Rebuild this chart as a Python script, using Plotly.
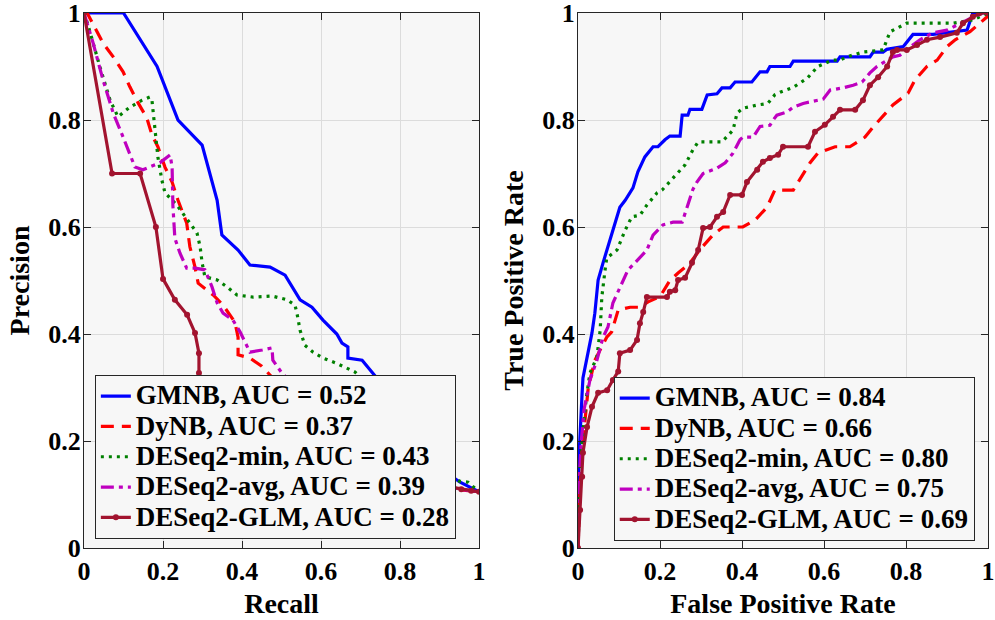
import plotly.graph_objects as go

# ---------------- data ----------------
methods = ["GMNB", "DyNB", "DESeq2-min", "DESeq2-avg", "DESeq2-GLM"]
pr_auc = ["0.52", "0.37", "0.43", "0.39", "0.28"]
roc_auc = ["0.84", "0.66", "0.80", "0.75", "0.69"]
tick_vals = [0, 0.2, 0.4, 0.6, 0.8, 1]
tick_text = ["0", "0.2", "0.4", "0.6", "0.8", "1"]

# Precision-Recall curves
gmnb_recall = [0, 0.1, 0.185, 0.238, 0.299, 0.337, 0.349, 0.39, 0.42, 0.471, 0.509, 0.547, 0.577, 0.605, 0.64, 0.653, 0.668, 0.668, 0.704, 0.724, 0.75, 0.8, 0.85, 0.9, 0.952, 1.0]
gmnb_prec = [1, 1, 0.9, 0.8, 0.753, 0.65, 0.585, 0.557, 0.529, 0.525, 0.51, 0.464, 0.45, 0.426, 0.40, 0.383, 0.376, 0.355, 0.351, 0.333, 0.31, 0.26, 0.2, 0.15, 0.123, 0.105]

dynb_recall = [0, 0.008, 0.048, 0.074, 0.099, 0.116, 0.137, 0.159, 0.172, 0.187, 0.205, 0.223, 0.238, 0.25, 0.26, 0.268, 0.281, 0.289, 0.327, 0.352, 0.382, 0.39, 0.39, 0.42, 0.45, 0.5, 0.6, 0.7, 0.8, 0.9, 0.96, 1.0]
dynb_prec = [1, 1, 0.944, 0.918, 0.89, 0.862, 0.832, 0.804, 0.772, 0.75, 0.712, 0.684, 0.65, 0.626, 0.607, 0.563, 0.525, 0.495, 0.473, 0.454, 0.422, 0.394, 0.361, 0.355, 0.34, 0.3, 0.24, 0.19, 0.15, 0.12, 0.108, 0.105]

dmin_recall = [0, 0.01, 0.04, 0.066, 0.086, 0.116, 0.147, 0.167, 0.172, 0.18, 0.187, 0.197, 0.205, 0.235, 0.263, 0.286, 0.294, 0.299, 0.306, 0.337, 0.362, 0.387, 0.428, 0.476, 0.514, 0.534, 0.539, 0.547, 0.559, 0.58, 0.605, 0.64, 0.686, 0.75, 0.85, 0.95, 0.972, 1.0]
dmin_prec = [1, 0.978, 0.9, 0.837, 0.806, 0.824, 0.837, 0.843, 0.837, 0.776, 0.731, 0.688, 0.664, 0.641, 0.613, 0.589, 0.563, 0.533, 0.507, 0.501, 0.488, 0.473, 0.469, 0.471, 0.464, 0.454, 0.439, 0.407, 0.379, 0.366, 0.355, 0.345, 0.329, 0.28, 0.18, 0.125, 0.123, 0.105]

davg_recall = [0, 0.023, 0.048, 0.074, 0.099, 0.129, 0.149, 0.192, 0.218, 0.223, 0.225, 0.23, 0.243, 0.26, 0.281, 0.306, 0.324, 0.337, 0.352, 0.377, 0.395, 0.408, 0.42, 0.451, 0.476, 0.478, 0.501, 0.55, 0.65, 0.75, 0.85, 0.95, 1.0]
davg_prec = [1, 0.944, 0.875, 0.813, 0.768, 0.712, 0.707, 0.72, 0.735, 0.712, 0.64, 0.579, 0.551, 0.523, 0.523, 0.52, 0.488, 0.458, 0.439, 0.426, 0.404, 0.383, 0.366, 0.37, 0.374, 0.351, 0.327, 0.29, 0.22, 0.17, 0.13, 0.11, 0.105]

dglm_recall = [0, 0.071, 0.142, 0.182, 0.2, 0.23, 0.261, 0.281, 0.291, 0.291, 0.3, 0.35, 0.45, 0.6, 0.8, 0.955, 0.98, 1.0]
dglm_prec = [1, 0.70, 0.70, 0.6, 0.503, 0.464, 0.436, 0.402, 0.364, 0.327, 0.29, 0.24, 0.2, 0.16, 0.13, 0.11, 0.107, 0.105]

# ROC curves
gmnb_fpr = [0, 0, 0.003, 0.006, 0.01, 0.012, 0.024, 0.034, 0.041, 0.049, 0.061, 0.073, 0.085, 0.102, 0.115, 0.134, 0.146, 0.163, 0.183, 0.195, 0.212, 0.224, 0.249, 0.254, 0.268, 0.273, 0.302, 0.315, 0.339, 0.351, 0.371, 0.383, 0.424, 0.444, 0.461, 0.468, 0.517, 0.525, 0.632, 0.639, 0.712, 0.72, 0.744, 0.753, 0.793, 0.817, 0.866, 0.949, 0.963, 1.0]
gmnb_tpr = [0, 0.1, 0.18, 0.24, 0.29, 0.318, 0.364, 0.402, 0.439, 0.501, 0.533, 0.563, 0.594, 0.637, 0.65, 0.673, 0.703, 0.731, 0.75, 0.75, 0.763, 0.77, 0.77, 0.809, 0.809, 0.82, 0.82, 0.847, 0.849, 0.86, 0.86, 0.871, 0.871, 0.89, 0.89, 0.9, 0.9, 0.91, 0.91, 0.918, 0.918, 0.927, 0.927, 0.932, 0.937, 0.96, 0.96, 0.968, 1.0, 1.0]

dynb_fpr = [0, 0.005, 0.012, 0.025, 0.041, 0.07, 0.082, 0.098, 0.127, 0.15, 0.171, 0.2, 0.224, 0.244, 0.27, 0.3, 0.329, 0.354, 0.402, 0.432, 0.461, 0.48, 0.525, 0.541, 0.566, 0.585, 0.627, 0.663, 0.7, 0.72, 0.749, 0.768, 0.805, 0.822, 0.851, 0.876, 0.9, 0.92, 0.956, 0.98, 0.998, 1.0]
dynb_tpr = [0, 0.12, 0.2, 0.3, 0.351, 0.394, 0.404, 0.445, 0.45, 0.45, 0.46, 0.47, 0.5, 0.514, 0.53, 0.56, 0.585, 0.6, 0.6, 0.613, 0.637, 0.669, 0.669, 0.688, 0.72, 0.738, 0.75, 0.75, 0.768, 0.787, 0.813, 0.828, 0.85, 0.875, 0.9, 0.912, 0.937, 0.95, 0.965, 0.981, 0.993, 1.0]

dmin_fpr = [0, 0.005, 0.01, 0.02, 0.029, 0.046, 0.054, 0.058, 0.066, 0.07, 0.095, 0.115, 0.131, 0.151, 0.168, 0.193, 0.205, 0.232, 0.261, 0.28, 0.293, 0.351, 0.378, 0.388, 0.402, 0.437, 0.463, 0.48, 0.493, 0.525, 0.559, 0.585, 0.62, 0.639, 0.656, 0.695, 0.744, 0.761, 0.778, 0.802, 0.915, 0.963, 0.98, 1.0]
dmin_tpr = [0, 0.15, 0.2, 0.28, 0.327, 0.357, 0.407, 0.469, 0.52, 0.542, 0.557, 0.594, 0.619, 0.622, 0.641, 0.664, 0.669, 0.692, 0.716, 0.744, 0.759, 0.759, 0.781, 0.813, 0.822, 0.828, 0.831, 0.847, 0.852, 0.861, 0.878, 0.9, 0.912, 0.912, 0.918, 0.927, 0.931, 0.965, 0.972, 0.981, 0.981, 0.987, 0.993, 1.0]

davg_fpr = [0, 0.003, 0.008, 0.015, 0.029, 0.046, 0.061, 0.073, 0.085, 0.102, 0.122, 0.139, 0.168, 0.183, 0.207, 0.232, 0.254, 0.266, 0.28, 0.29, 0.305, 0.339, 0.359, 0.378, 0.395, 0.402, 0.427, 0.444, 0.468, 0.476, 0.485, 0.51, 0.525, 0.549, 0.598, 0.615, 0.646, 0.671, 0.693, 0.712, 0.729, 0.768, 0.785, 0.805, 0.834, 0.866, 0.9, 0.939, 0.973, 1.0]
davg_tpr = [0, 0.13, 0.2, 0.26, 0.314, 0.351, 0.394, 0.413, 0.458, 0.488, 0.52, 0.533, 0.557, 0.585, 0.604, 0.609, 0.609, 0.637, 0.67, 0.684, 0.7, 0.71, 0.72, 0.738, 0.763, 0.768, 0.768, 0.788, 0.79, 0.8, 0.809, 0.815, 0.824, 0.831, 0.839, 0.856, 0.86, 0.865, 0.871, 0.888, 0.9, 0.918, 0.921, 0.934, 0.95, 0.963, 0.968, 0.983, 0.996, 1.0]

dglm_fpr = [0, 0.005, 0.01, 0.012, 0.022, 0.034, 0.049, 0.071, 0.085, 0.098, 0.102, 0.127, 0.144, 0.151, 0.159, 0.168, 0.217, 0.224, 0.237, 0.244, 0.261, 0.278, 0.293, 0.305, 0.322, 0.339, 0.354, 0.371, 0.4, 0.412, 0.437, 0.451, 0.468, 0.488, 0.5, 0.561, 0.578, 0.602, 0.622, 0.639, 0.676, 0.695, 0.712, 0.732, 0.754, 0.768, 0.778, 0.802, 0.827, 0.851, 0.883, 0.924, 0.939, 0.963, 0.98, 1.0]
dglm_tpr = [0, 0.071, 0.133, 0.178, 0.226, 0.264, 0.29, 0.295, 0.314, 0.33, 0.364, 0.37, 0.389, 0.42, 0.441, 0.469, 0.469, 0.479, 0.482, 0.501, 0.505, 0.533, 0.557, 0.598, 0.6, 0.619, 0.628, 0.66, 0.66, 0.684, 0.707, 0.722, 0.729, 0.735, 0.75, 0.75, 0.778, 0.791, 0.806, 0.819, 0.819, 0.837, 0.865, 0.88, 0.9, 0.927, 0.931, 0.931, 0.94, 0.95, 0.955, 0.963, 0.981, 0.993, 1.0, 1.0]

pr_x = [gmnb_recall, dynb_recall, dmin_recall, davg_recall, dglm_recall]
pr_y = [gmnb_prec, dynb_prec, dmin_prec, davg_prec, dglm_prec]
roc_x = [gmnb_fpr, dynb_fpr, dmin_fpr, davg_fpr, dglm_fpr]
roc_y = [gmnb_tpr, dynb_tpr, dmin_tpr, davg_tpr, dglm_tpr]

# ---------------- styles ----------------
colors = ["#0000FF", "#FF0000", "#008000", "#BF00BF", "#A2142F"]
dashes = ["solid", "13px,8px", "3px,5px", "13px,5px,4px,5px", "solid"]
FONT = "Liberation Serif"

fig = go.Figure()


def add(xs, ys, i, name, xa, ya, leg):
    mode = "lines+markers" if i == 4 else "lines"
    fig.add_trace(go.Scatter(
        x=xs, y=ys, mode=mode,
        name='<span style="font-size:27px">' + name + '</span>',
        xaxis=xa, yaxis=ya, legend=leg,
        line=dict(color=colors[i], width=3.2, dash=dashes[i]),
        marker=dict(color=colors[i], size=6, symbol="circle"),
    ))


for i, m in enumerate(methods):
    add(pr_x[i], pr_y[i], i, f"{m}, AUC = {pr_auc[i]}", "x", "y", "legend")
for i, m in enumerate(methods):
    add(roc_x[i], roc_y[i], i, f"{m}, AUC = {roc_auc[i]}", "x2", "y2", "legend2")

axis_common = dict(
    range=[0, 1], tickvals=tick_vals, ticktext=tick_text,
    showline=True, linecolor="#262626", linewidth=1, mirror="ticks",
    ticks="inside", ticklen=7, tickcolor="#262626",
    showgrid=True, gridcolor="#dcdcdc", gridwidth=1, zeroline=False,
    automargin=False, ticklabeloverflow="allow",
    tickfont=dict(family=FONT, size=26, color="black", weight="bold"),
)
title_font = dict(family=FONT, size=28, color="black", weight="bold")

legend_common = dict(
    bgcolor="#f7f7f7", bordercolor="#262626", borderwidth=1,
    font=dict(family=FONT, size=21, color="black", weight="bold"),
    xanchor="left", yanchor="top", itemwidth=30, tracegroupgap=0,
)

fig.update_layout(
    width=995, height=620,
    margin=dict(l=84, r=7, t=13, b=72),
    paper_bgcolor="white", plot_bgcolor="#f7f7f7",
    xaxis=dict(domain=[0, 0.437], title=dict(text="Recall", font=title_font, standoff=8), anchor="y", **axis_common),
    yaxis=dict(domain=[0, 1], title=dict(text="Precision", font=title_font, standoff=10), anchor="x", ticklabelstandoff=-3, **axis_common),
    xaxis2=dict(domain=[0.5465, 1], title=dict(text="False Positive Rate", font=title_font, standoff=8), anchor="y2", **axis_common),
    yaxis2=dict(domain=[0, 1], title=dict(text="True Positive Rate", font=title_font, standoff=10), anchor="x2", ticklabelstandoff=-3, **axis_common),
    legend=dict(x=0.012, y=0.3234, **legend_common),
    legend2=dict(x=0.586, y=0.3196, **legend_common),
    showlegend=True,
)

# remove the browser's default 8px body margin so the figure sits at the page origin
fig.write_html("out.html", config={"displayModeBar": False},
               post_script="document.body.style.margin='0px';")
